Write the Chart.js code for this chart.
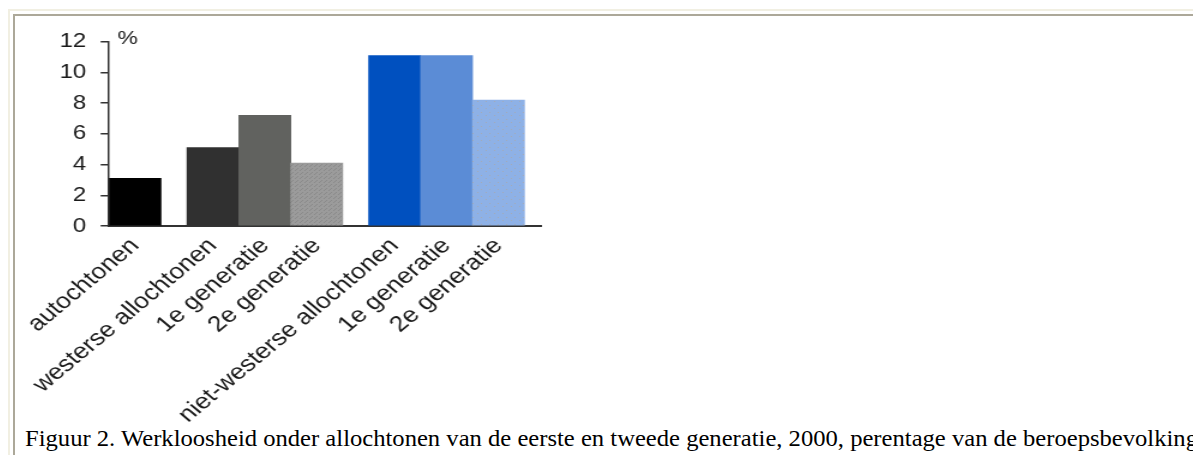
<!DOCTYPE html>
<html>
<head>
<meta charset="utf-8">
<script src="https://cdn.jsdelivr.net/npm/chart.js@4.4.0/dist/chart.umd.min.js"></script>
<style>
  html,body{margin:0;padding:0;background:#fff;overflow:hidden;}
  body{width:1193px;height:455px;position:relative;}
  .frameOut{position:absolute;left:8px;top:9px;width:1400px;height:600px;
    border-left:2px solid #f1efe2;border-top:2px solid #f1efe2;}
  .frameIn{position:absolute;left:13px;top:14px;width:1400px;height:600px;
    border-left:2px solid #aca899;border-top:2px solid #aca899;}
  #wrap{position:absolute;left:14px;top:16px;width:460px;height:406px;
    transform:scaleX(1.2);transform-origin:0 0;}
  #caption{position:absolute;left:25px;top:427px;white-space:nowrap;
    font-family:"Liberation Serif","Times New Roman",serif;font-size:23px;line-height:1;color:#000;
    transform:scaleX(1.07);transform-origin:0 0;}
</style>
</head>
<body>
<div class="frameOut"></div>
<div class="frameIn"></div>
<div id="wrap"><canvas id="chart" width="460" height="406" style="width:460px;height:406px"></canvas></div>
<div id="caption">Figuur 2. Werkloosheid onder allochtonen van de eerste en tweede generatie, 2000, perentage van de beroepsbevolking</div>
<script>
// ---- data ----
const categories = ['autochtonen','westerse allochtonen','1e generatie','2e generatie',
                    'niet-westerse allochtonen','1e generatie','2e generatie'];
const groupSizes = [1, 3, 3];
const values = [3.1, 5.1, 7.2, 4.1, 11.1, 11.1, 8.2];
const yTicks = [0, 2, 4, 6, 8, 10, 12];

// ---- style ----
const FONT = '"Liberation Sans", Arial, sans-serif';
const GROUP_GAP = 0.5;

function pattern(base, dot, size, pts){
  const c = document.createElement('canvas');
  c.width = size; c.height = size;
  const g = c.getContext('2d');
  g.fillStyle = base; g.fillRect(0,0,size,size);
  g.fillStyle = dot;
  pts.forEach(p => g.fillRect(p[0],p[1],1,1));
  return document.getElementById('chart').getContext('2d').createPattern(c,'repeat');
}

const barColors = [
  '#000000',
  '#303030',
  '#61625f',
  pattern('#9b9b9b','#8a8a8a',4,[[0,0],[2,2],[3,1]]),
  '#0050bf',
  '#5b8cd6',
  pattern('#8eb1e6','#a4abb8',7,[[1,1],[4,5]])
];

// bar centres: bars touch inside a group, half a bar gap between groups
const positions = [];
let cur = 0;
groupSizes.forEach((n, g) => {
  if (g > 0) cur += GROUP_GAP;
  for (let i = 0; i < n; i++) { positions.push(cur + 0.5); cur += 1; }
});
const xMax = cur + 0.32;

const percentLabel = {
  id: 'percentLabel',
  afterDraw(chart){
    const {ctx, chartArea} = chart;
    ctx.save();
    ctx.font = '19px ' + FONT;
    ctx.fillStyle = '#1a1a1a';
    ctx.textBaseline = 'alphabetic';
    ctx.fillText('%', chartArea.left + 7, chartArea.top + 2);
    ctx.restore();
  }
};

new Chart(document.getElementById('chart'), {
  type: 'bar',
  data: {
    datasets: [{
      data: values.map((v, i) => ({x: positions[i], y: v})),
      backgroundColor: barColors,
      borderWidth: 0,
      barPercentage: 1,
      categoryPercentage: 1
    }]
  },
  options: {
    responsive: false,
    animation: false,
    devicePixelRatio: 1,
    layout: {padding: {left: 0, top: 25.7, right: 20.8, bottom: 0}},
    plugins: {legend: {display: false}, tooltip: {enabled: false}},
    scales: {
      x: {
        type: 'linear',
        offset: false,
        min: 0,
        max: xMax,
        afterBuildTicks(s){ s.ticks = positions.map(v => ({value: v})); },
        afterFit(s){ s.height = 406 - 210; },
        grid: {display: false, offset: false},
        border: {display: true, color: '#333', width: 2},
        ticks: {
          autoSkip: false,
          maxRotation: 45,
          minRotation: 45,
          padding: -1,
          color: '#1a1a1a',
          font: {family: FONT, size: 22},
          callback: (v, i) => categories[i]
        }
      },
      y: {
        min: 0,
        max: 12,
        afterBuildTicks(s){ s.ticks = yTicks.map(v => ({value: v})); },
        afterFit(s){ s.width = 79.2; },
        grid: {display: true, drawOnChartArea: false, drawTicks: true, tickLength: 7,
               color: '#333', lineWidth: 1.5},
        border: {display: true, color: '#333', width: 1.5},
        ticks: {padding: 12, color: '#1a1a1a', font: {family: FONT, size: 20}}
      }
    }
  },
  plugins: [percentLabel]
});
</script>
</body>
</html>
